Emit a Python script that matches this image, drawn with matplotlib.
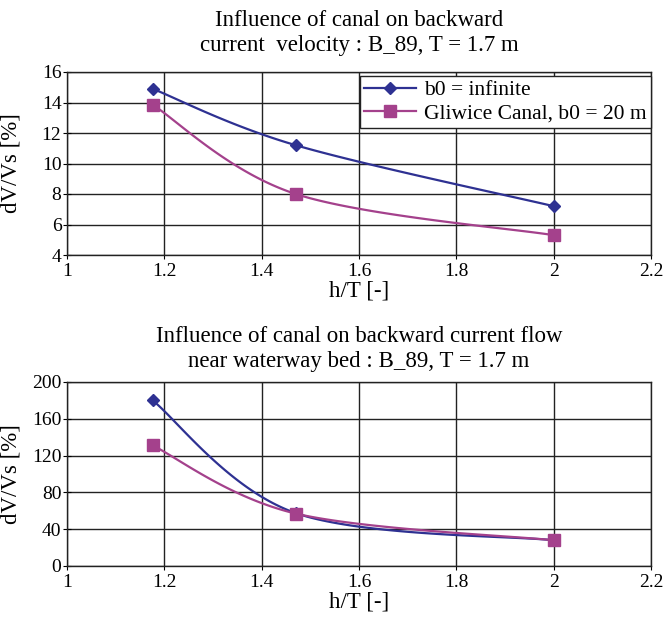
import numpy as np
import matplotlib.pyplot as plt
from matplotlib.lines import Line2D

plt.rcParams['font.family'] = ['Liberation Serif', 'DejaVu Serif']

# ---------------------------------------------------------------- data
h_T = [1.176, 1.47, 2.0]

vel_infinite = [14.9, 11.2, 7.2]
vel_gliwice = [13.85, 8.0, 5.3]

bed_infinite = [180, 57.5, 28]
bed_gliwice = [131, 57, 28]

LABEL_INF = 'b0 = infinite'
LABEL_GLI = 'Gliwice Canal, b0 = 20 m'

TITLE_TOP = ['Influence of canal on backward',
             'current  velocity : B_89, T = 1.7 m']
TITLE_BOT = ['Influence of canal on backward current flow',
             'near waterway bed : B_89, T = 1.7 m']

C_BLUE, C_MAG = '#2E3192', '#A4418C'
FS_TICK, FS_LAB, FS_TITLE, FS_LEG = 14, 16.5, 16.5, 15.5


def smooth(x, y, n=60):
    """Excel-style smoothed line (Catmull-Rom as cubic Bezier)."""
    p = np.column_stack([x, y]).astype(float)
    ext = np.vstack([p[0], p, p[-1]])
    t = np.linspace(0, 1, n)[:, None]
    out = []
    for i in range(len(p) - 1):
        p0, p3 = ext[i + 1], ext[i + 2]
        c1 = p0 + (ext[i + 2] - ext[i]) / 6
        c2 = p3 - (ext[i + 3] - ext[i + 1]) / 6
        seg = ((1 - t) ** 3) * p0 + 3 * ((1 - t) ** 2) * t * c1 \
            + 3 * (1 - t) * t ** 2 * c2 + t ** 3 * p3
        out.append(seg)
    s = np.vstack(out)
    return s[:, 0], s[:, 1]


def panel(ax, y1, y2, ylim, yticks):
    for y, c, m, ms in [(y1, C_BLUE, 'D', 6.5), (y2, C_MAG, 's', 8)]:
        sx, sy = smooth(h_T, y)
        ax.plot(sx, sy, color=c, lw=1.6, zorder=3)
        ax.plot(h_T, y, ls='none', marker=m, ms=ms, color=c, zorder=4)
    ax.set_xlim(1, 2.2)
    ax.set_ylim(*ylim)
    ax.set_xticks(np.arange(1, 2.21, 0.2))
    ax.set_xticklabels(['1', '1.2', '1.4', '1.6', '1.8', '2', '2.2'])
    ax.set_yticks(yticks)
    ax.grid(True, color='#222222', lw=1.0)
    ax.set_axisbelow(True)
    for s in ax.spines.values():
        s.set_color('#222222')
        s.set_linewidth(1.0)
    ax.tick_params(axis='y', direction='inout', length=6, labelsize=FS_TICK, pad=1)
    ax.tick_params(axis='x', direction='out', length=3, labelsize=FS_TICK, pad=3)
    ax.set_xlabel('h/T [-]', fontsize=FS_LAB, labelpad=0)
    ax.set_ylabel('dV/Vs [%]', fontsize=FS_LAB)
    ax.yaxis.set_label_coords(-0.078, 0.5)


def title(fig, lines, ys):
    for txt, y in zip(lines, ys):
        fig.text(0.101 + 0.881 / 2, 1 - y / 630, txt, ha='center',
                 va='center', fontsize=FS_TITLE)


fig = plt.figure(figsize=(6.63, 6.30), dpi=100)
ax1 = fig.add_axes([0.101, 1 - 255 / 630, 0.881, 183 / 630])
ax2 = fig.add_axes([0.101, 1 - 566 / 630, 0.881, 184 / 630])

panel(ax1, vel_infinite, vel_gliwice, (4, 16), range(4, 17, 2))
panel(ax2, bed_infinite, bed_gliwice, (0, 200), range(0, 201, 40))

title(fig, TITLE_TOP, [20, 46])
title(fig, TITLE_BOT, [336, 362])

handles = [Line2D([], [], color=C_BLUE, lw=1.6, marker='D', ms=6.5),
           Line2D([], [], color=C_MAG, lw=1.6, marker='s', ms=8)]
leg = ax1.legend(handles, [LABEL_INF, LABEL_GLI], loc='upper right',
                 bbox_to_anchor=(1.0, 0.98), fontsize=FS_LEG, frameon=True,
                 fancybox=False, framealpha=1, edgecolor='#222222',
                 handlelength=2.4, handletextpad=0.4, borderpad=0.2,
                 labelspacing=0.15, borderaxespad=0.0)
leg.get_frame().set_linewidth(1.0)

fig.savefig('out.png', dpi=100)
